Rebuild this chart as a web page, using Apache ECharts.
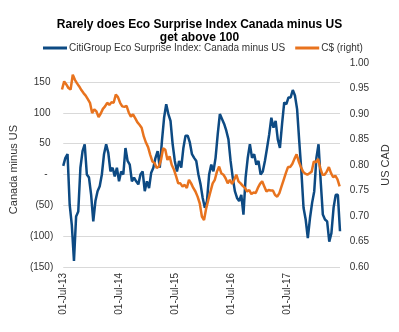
<!DOCTYPE html>
<html><head><meta charset="utf-8">
<script src="https://cdn.jsdelivr.net/npm/echarts@6/dist/echarts.min.js"></script>
<style>html,body{margin:0;padding:0;background:#fff}#c{width:399px;height:332px}</style>
</head><body><div id="c"></div>
<script>
var titleLines = ['Rarely does Eco Surprise Index Canada minus US', 'get above 100'];
var seriesNames = ['CitiGroup Eco Surprise Index: Canada minus US', 'C$ (right)'];
var leftAxisName = 'Canada minus US';
var rightAxisName = 'US CAD';
var startDate = '2013-07-01';
var stepDays = 14;
var xTickDates = ['2013-07-01', '2014-07-01', '2015-07-01', '2016-07-01', '2017-07-01'];
var xTickLabels = ['01-Jul-13', '01-Jul-14', '01-Jul-15', '01-Jul-16', '01-Jul-17'];
var surprise = [
 14, 27, 33, -49, -82, -140, -68, -60, 11, 38,
 49, 0, -5, -33, -76, -43, -27, -19, 0, 33,
 49, 35, 5, 11, -3, 11, -11, 5, 0, 43,
 22, 16, -11, -5, -11, -16, 0, 5, -27, -11,
 -22, 3, 11, 27, 38, 11, 54, 92, 114, 98,
 87, 49, 22, 5, 22, 11, 43, 63, 63, 52,
 33, 27, 22, 0, -16, -38, -54, -43, 0, 16,
 5, 27, 65, 98, 90, 82, 71, 57, 22, -5,
 -27, -38, -43, -33, -65, -5, 27, 49, 27, 33,
 16, 22, 0, 5, 22, 43, 65, 92, 76, 87,
 57, 43, 82, 117, 114, 125, 125, 137, 128, 106,
 54, 5, -54, -73, -103, -71, -46, -27, 27, 49,
 -11, -65, -73, -76, -109, -95, -54, -33, -33, -92
];
var cad = [
 0.948, 0.964, 0.958, 0.951, 0.948, 0.977, 0.967, 0.960, 0.954, 0.947,
 0.941, 0.936, 0.929, 0.922, 0.902, 0.909, 0.905, 0.894, 0.901, 0.910,
 0.915, 0.922, 0.918, 0.923, 0.922, 0.938, 0.933, 0.922, 0.915, 0.914,
 0.916, 0.903, 0.895, 0.899, 0.892, 0.884, 0.879, 0.873, 0.856, 0.844,
 0.835, 0.820, 0.807, 0.804, 0.794, 0.797, 0.810, 0.833, 0.830, 0.810,
 0.817, 0.800, 0.791, 0.778, 0.764, 0.764, 0.758, 0.761, 0.755, 0.771,
 0.764, 0.755, 0.748, 0.738, 0.725, 0.699, 0.692, 0.715, 0.732, 0.748,
 0.764, 0.771, 0.787, 0.797, 0.784, 0.781, 0.774, 0.764, 0.771, 0.763,
 0.771, 0.781, 0.768, 0.764, 0.759, 0.755, 0.748, 0.751, 0.743, 0.746,
 0.745, 0.755, 0.763, 0.768, 0.758, 0.748, 0.751, 0.750, 0.750, 0.741,
 0.738, 0.745, 0.758, 0.771, 0.784, 0.796, 0.796, 0.802, 0.812, 0.821,
 0.807, 0.796, 0.787, 0.783, 0.781, 0.784, 0.787, 0.807, 0.805, 0.812,
 0.794, 0.781, 0.781, 0.787, 0.796, 0.784, 0.776, 0.779, 0.772, 0.758
];

var DAY = 86400000;
var t0 = new Date(startDate + 'T00:00:00Z').getTime();
// x position measured in days since the start date
var blueData = surprise.map(function (v, i) { return [i * stepDays, v]; });
var orangeData = cad.map(function (v, i) { return [i * stepDays, v]; });
var xMax = (surprise.length - 1) * stepDays;
var tickDays = xTickDates.map(function (d) { return (new Date(d + 'T00:00:00Z').getTime() - t0) / DAY; });

var font = 'Liberation Sans, Arial, sans-serif';
var txt = '#333';
var chart = echarts.init(document.getElementById('c'), null, { renderer: 'canvas' });
function xAx(idx, show) {
  return {
    type: 'value', gridIndex: idx, min: 0, max: xMax, interval: 365.25, show: show,
    axisLine: { show: false }, axisTick: { show: false }, splitLine: { show: false },
    axisLabel: {
      show: show, rotate: 90, margin: 6, fontSize: 10, fontFamily: font, color: txt,
      showMaxLabel: false,
      formatter: function (v) {
        for (var j = 0; j < tickDays.length; j++) if (Math.abs(tickDays[j] - v) < 2) return xTickLabels[j];
        return '';
      }
    }
  };
}
chart.setOption({
  animation: false,
  backgroundColor: '#fff',
  title: {
    text: titleLines.join('\n'), left: 'center', top: 13,
    textStyle: { fontSize: 12, fontWeight: 'bold', fontFamily: font, color: '#000', lineHeight: 13 }
  },
  legend: {
    left: 38, top: 38, itemWidth: 24, itemHeight: 3, itemGap: 10, icon: 'rect',
    textStyle: { fontSize: 10, fontFamily: font, color: txt, padding: [0, 0, 0, -3] },
    data: seriesNames
  },
  grid: [
    { left: 62, right: 59, top: 82, bottom: 65 },
    { left: 62, right: 59, top: 63, bottom: 65 }
  ],
  xAxis: [xAx(0, true), xAx(1, false)],
  yAxis: [
    {
      type: 'value', gridIndex: 0, min: -150, max: 150, interval: 50,
      name: leftAxisName, nameLocation: 'middle', nameGap: 38,
      nameTextStyle: { fontSize: 11, fontFamily: font, color: txt, padding: [0, 0, 0, 10] },
      axisLine: { show: false }, axisTick: { show: false },
      splitLine: { lineStyle: { color: '#d9d9d9', width: 1 } },
      axisLabel: {
        fontSize: 10, fontFamily: font, color: txt, margin: 10,
        formatter: function (v) { return v === 0 ? '-  ' : (v < 0 ? '(' + (-v) + ')' : v + ' '); }
      }
    },
    {
      type: 'value', gridIndex: 1, position: 'right', min: 0.6, max: 1.0, interval: 0.05,
      name: rightAxisName, nameLocation: 'middle', nameGap: 31,
      nameTextStyle: { fontSize: 11, fontFamily: font, color: txt },
      axisLine: { show: false }, axisTick: { show: false }, splitLine: { show: false },
      axisLabel: {
        fontSize: 10, fontFamily: font, color: txt, margin: 10,
        formatter: function (v) { return v.toFixed(2); }
      }
    }
  ],
  series: [
    {
      name: seriesNames[0], type: 'line', xAxisIndex: 0, yAxisIndex: 0, data: blueData,
      showSymbol: false, symbol: 'none', lineStyle: { color: '#0D4A83', width: 2.5 },
      itemStyle: { color: '#0D4A83' }, z: 2
    },
    {
      name: seriesNames[1], type: 'line', xAxisIndex: 1, yAxisIndex: 1, data: orangeData,
      showSymbol: false, symbol: 'none', lineStyle: { color: '#E8731E', width: 2.5 },
      itemStyle: { color: '#E8731E' }, z: 3
    }
  ]
});
</script></body></html>
